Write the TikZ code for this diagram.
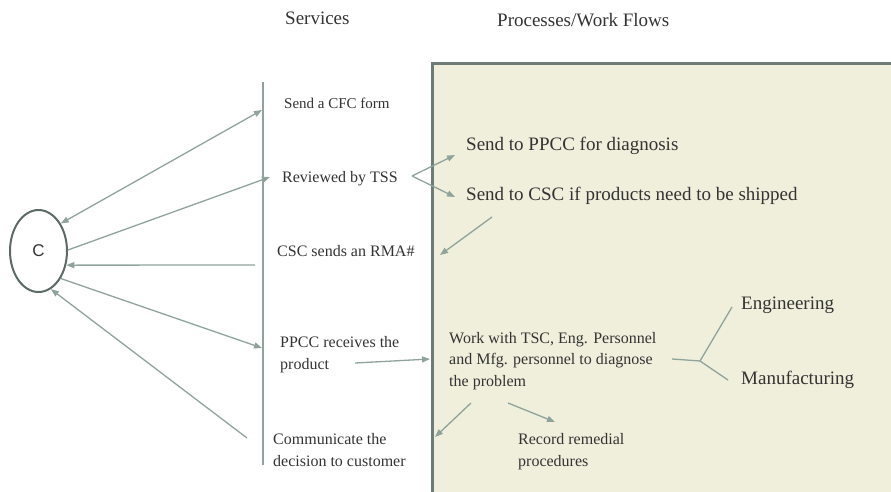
\documentclass[tikz,border=0pt]{standalone}
\usepackage{fontspec}
\setmainfont{Liberation Serif}
\newfontfamily\sansC{Liberation Sans}
\usetikzlibrary{arrows.meta,shapes.geometric}
\definecolor{flow}{HTML}{8FA39B}
\definecolor{panel}{HTML}{F0EFDC}
\definecolor{panelline}{HTML}{6E7C75}
\definecolor{ink}{HTML}{333333}
\definecolor{ring}{HTML}{5E6A64}
\begin{document}
\begin{tikzpicture}[x=1pt,y=-1pt,
  flowline/.style={draw=flow,line width=1.3pt},
  arr/.style={flowline,-{Triangle[length=8pt,width=6pt]}},
  darr/.style={flowline,{Triangle[length=8pt,width=6pt]}-{Triangle[length=8pt,width=6pt]}},
  lbl/.style={inner sep=0pt,anchor=base west,text=ink,font=\fontsize{16}{21.5}\selectfont,align=left},
  big/.style={lbl,font=\fontsize{19}{23}\selectfont}]

\useasboundingbox (0,0) rectangle (891,491);
\clip (0,0) rectangle (891,491);

% process panel
\fill[panel] (432,63) rectangle (905,505);
\draw[panelline,line width=3pt] (432,505) -- (432,63) -- (905,63);

% column headings
\node[big] (hsvc) at (285,24) {Services};
\node[big] (hproc) at (497,26) {Processes/Work Flows};

% customer
\node[ellipse,draw=ring,line width=2pt,minimum width=57pt,minimum height=82pt,inner sep=0pt,
      font=\sansC\fontsize{17}{17}\selectfont,text=ink] (c) at (38.5,251) {C};

% services timeline
\coordinate (tl-top) at (263,82);
\coordinate (tl-bot) at (263,465);
\draw[flowline] (tl-top) -- (tl-bot);

% services (multi-line labels are placed by the baseline of their last line)
\node[lbl,font=\fontsize{15}{20}\selectfont] (cfc) at (284,108) {Send a CFC form};
\node[lbl] (tss) at (282,182) {Reviewed by TSS};
\node[lbl] (rma) at (277,256) {CSC sends an RMA\#};
\node[lbl] (ppcc) at (280,369) {PPCC receives the\\product};
\node[lbl] (comm) at (273,466) {Communicate the\\decision to customer};

% processes
\node[big] (diag) at (466,150) {Send to PPCC for diagnosis};
\node[big] (ship) at (466,200) {Send to CSC if products need to be shipped};
\node[lbl] (work) at (449,386) {Work with TSC, Eng. Personnel\\and Mfg. personnel to diagnose\\the problem};
\node[big] (eng) at (741,309) {Engineering};
\node[big] (mfg) at (741,384) {Manufacturing};
\node[lbl] (rec) at (518,466) {Record remedial\\procedures};

% connector end points
\coordinate (cfc-in) at (262,110);
\coordinate (tss-in) at (270,177);
\coordinate (rma-out) at (255,265);
\coordinate (ppcc-in) at (262,348);
\coordinate (comm-out) at (247,438);
\coordinate (ppcc-out) at (355,363);
\coordinate (work-in) at (430,359);
\coordinate (tss-out) at (412,176);
\coordinate (diag-in) at (455,155);
\coordinate (ship-in) at (455,197);
\coordinate (ship-out) at (492,217);
\coordinate (rma-in) at (440,255);
\coordinate (work-r) at (672,359);
\coordinate (fork) at (700,361);
\coordinate (eng-in) at (732,307);
\coordinate (mfg-in) at (728,380);
\coordinate (work-dl) at (471,403);
\coordinate (comm-in) at (435,437);
\coordinate (work-dr) at (508,403);
\coordinate (rec-in) at (555,422);

% customer <-> services
\draw[darr] (c.51) -- (cfc-in);
\draw[arr] (c.2) -- (tss-in);
\draw[arr] (rma-out) -- (c.-27);
\draw[arr] (c.-51) -- (ppcc-in);
\draw[arr] (comm-out) -- (c.-72);

% services <-> processes
\draw[arr] (ppcc-out) -- (work-in);
\draw[arr] (tss-out) -- (diag-in);
\draw[arr] (tss-out) -- (ship-in);
\draw[arr] (ship-out) -- (rma-in);
\draw[flowline] (work-r) -- (fork) -- (eng-in);
\draw[flowline] (fork) -- (mfg-in);
\draw[arr] (work-dl) -- (comm-in);
\draw[arr] (work-dr) -- (rec-in);
\end{tikzpicture}
\end{document}
